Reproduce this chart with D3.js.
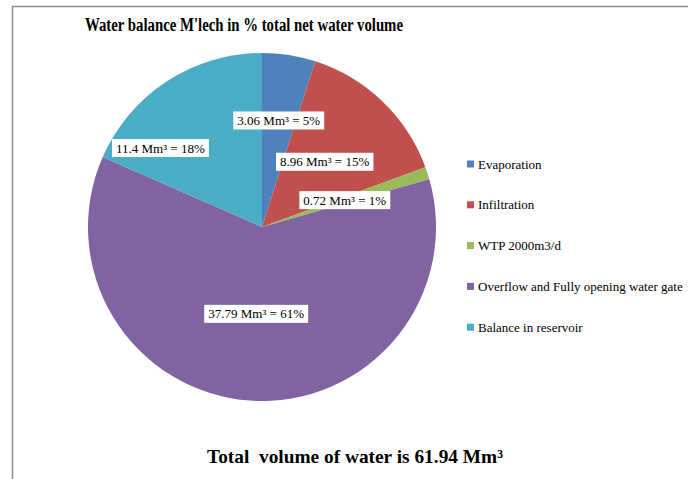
<!DOCTYPE html>
<html lang="en">
<head>
<meta charset="UTF-8">
<title>Water balance M'lech</title>
<script src="https://d3js.org/d3.v7.min.js"></script>
<style>
  body { margin: 0; background: #fff; }
  svg { display: block; font-family: "Liberation Serif", "Times New Roman", serif; }
</style>
</head>
<body>
<svg width="688" height="479"></svg>
<script>
// data
const categories = ["Evaporation", "Infiltration", "WTP 2000m3/d", "Overflow and Fully opening water gate", "Balance in reservoir"];
const volumes = [3.06, 8.96, 0.72, 37.79, 11.4];
const percents = [5, 15, 1, 61, 18];
const colors = ["#4F81BD", "#C0504D", "#9BBB59", "#8064A2", "#4BACC6"];

// label placement (fraction of radius, angle shift in degrees)
const labelRadius = [0.62, 0.52, 0.5, 0.5, 0.74];
const labelShift = [0, 0, 0, 0, -19];

const svg = d3.select("svg");
const cx = 262, cy = 227, R = 174;

// outer frame
svg.append("path")
  .attr("d", "M12.5,479 L12.5,6.5 L688,6.5")
  .attr("fill", "none")
  .attr("stroke", "#8c8c8c")
  .attr("stroke-width", 1.5);

svg.append("text")
  .attr("x", 244).attr("y", 31)
  .attr("text-anchor", "middle")
  .attr("font-size", 18).attr("font-weight", "bold")
  .attr("textLength", 318).attr("lengthAdjust", "spacingAndGlyphs")
  .text("Water balance M'lech in % total net water volume");

const pie = d3.pie().sort(null).value(d => d)(volumes);
const arc = d3.arc().innerRadius(0).outerRadius(R);

const g = svg.append("g").attr("transform", `translate(${cx},${cy})`);
g.selectAll("path.slice")
  .data(pie)
  .join("path")
  .attr("class", "slice")
  .attr("d", arc)
  .attr("fill", (d, i) => colors[i]);

// data labels
const lab = g.selectAll("g.lab")
  .data(pie)
  .join("g")
  .attr("class", "lab")
  .attr("transform", (d, i) => {
    const a = (d.startAngle + d.endAngle) / 2 + labelShift[i] * Math.PI / 180;
    const r = R * labelRadius[i];
    return `translate(${r * Math.sin(a)},${-r * Math.cos(a)})`;
  });

lab.append("text")
  .attr("text-anchor", "middle")
  .attr("dy", "0.35em")
  .attr("font-size", 13)
  .attr("fill", "#000")
  .text((d, i) => `${volumes[i]} Mm³ = ${percents[i]}%`);

lab.each(function() {
  const t = d3.select(this).select("text");
  const b = t.node().getBBox();
  d3.select(this).insert("rect", "text")
    .attr("x", b.x - 4).attr("y", b.y - 1.5)
    .attr("width", b.width + 8).attr("height", b.height + 3)
    .attr("fill", "#fff");
});

// legend
const legend = svg.append("g").attr("transform", "translate(467,164)");
const item = legend.selectAll("g")
  .data(categories)
  .join("g")
  .attr("transform", (d, i) => `translate(0,${i * 40.8})`);
item.append("rect")
  .attr("x", 0).attr("y", -3.5)
  .attr("width", 7).attr("height", 7)
  .attr("fill", (d, i) => colors[i]);
item.append("text")
  .attr("x", 11).attr("dy", "0.35em")
  .attr("font-size", 13)
  .text(d => d);

svg.append("text")
  .attr("x", 355).attr("y", 463)
  .attr("text-anchor", "middle")
  .attr("font-size", 19.5).attr("font-weight", "bold")
  .attr("textLength", 296).attr("lengthAdjust", "spacingAndGlyphs")
  .style("white-space", "pre")
  .text("Total  volume of water is 61.94 Mm³");
</script>
</body>
</html>
